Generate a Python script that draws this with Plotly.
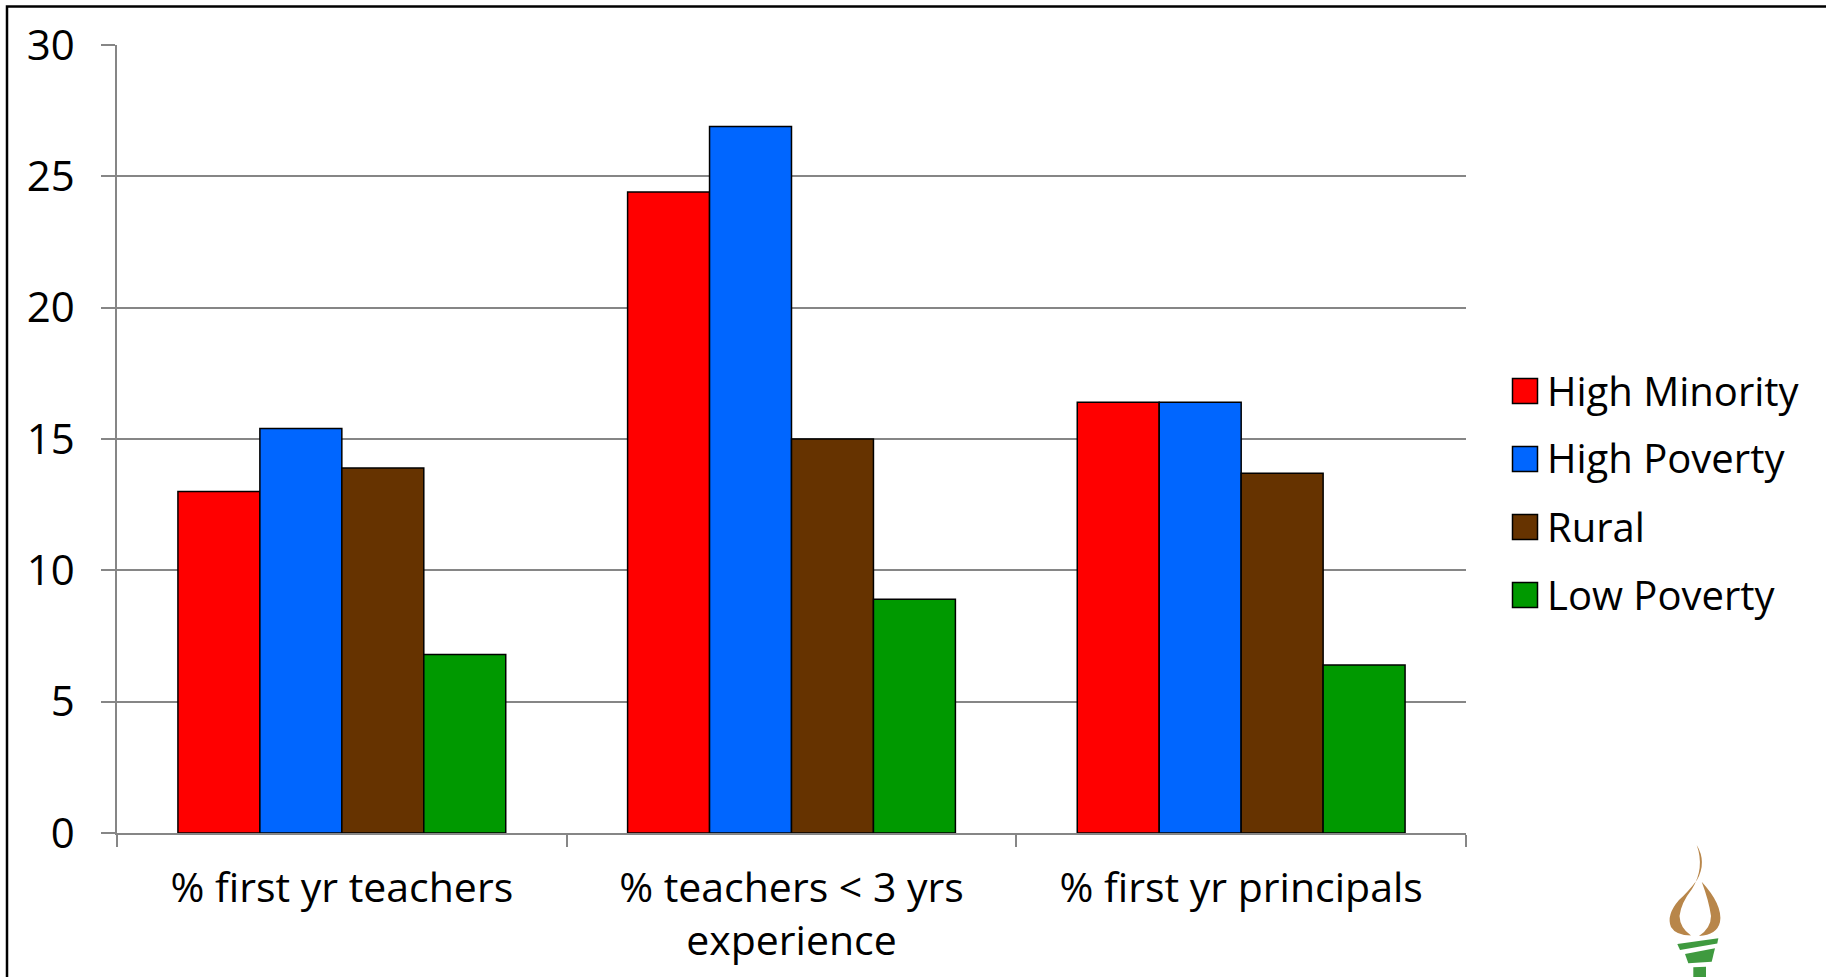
import plotly.graph_objects as go

# ---- data ----
categories = ["% first yr teachers", "% teachers < 3 yrs experience", "% first yr principals"]
tick_labels = ["% first yr teachers", "% teachers &lt; 3 yrs<br>experience", "% first yr principals"]

series_names = ["High Minority", "High Poverty", "Rural", "Low Poverty"]
high_minority = [13.0, 24.4, 16.4]
high_poverty = [15.4, 26.9, 16.4]
rural = [13.9, 15.0, 13.7]
low_poverty = [6.8, 8.9, 6.4]
series_values = [high_minority, high_poverty, rural, low_poverty]
series_colors = ["#FF0000", "#0066FF", "#663300", "#009900"]

y_ticks = [0, 5, 10, 15, 20, 25, 30]

# ---- page geometry (pixels) ----
W, H = 1826, 977
ML, MR, MT, MB = 117, 360, 45, 144
PW, PH = W - ML - MR, H - MT - MB
FONT = "Open Sans"
GRID = "#868686"


def px(x):
    return (x - ML) / PW


def py(y):
    return (H - MB - y) / PH


def path(cmds):
    out = []
    for letter, pts in cmds:
        out.append(letter + " ".join(f"{px(x):.5f},{py(y):.5f}" for x, y in pts))
    return " ".join(out) + " Z"


fig = go.Figure()
for name, vals, col in zip(series_names, series_values, series_colors):
    fig.add_trace(go.Bar(
        name=name, x=categories, y=vals,
        marker=dict(color=col, line=dict(color="black", width=1.5)),
        showlegend=False,
    ))

shapes = []
annotations = []

# legend: square swatches with labels
for i, (name, col) in enumerate(zip(series_names, series_colors)):
    cy = 391 + i * 68
    shapes.append(dict(type="rect", xref="paper", yref="paper",
                       x0=px(1512.5), x1=px(1537.5), y0=py(cy + 12.5), y1=py(cy - 12.5),
                       fillcolor=col, line=dict(color="black", width=1.5)))
    annotations.append(dict(text=name, xref="paper", yref="paper", x=px(1545), y=py(cy - 1),
                            xanchor="left", yanchor="middle", showarrow=False,
                            font=dict(family=FONT, size=40, color="black")))

# slide frame (top and left edges)
shapes.append(dict(type="rect", xref="paper", yref="paper",
                   x0=px(7), x1=px(W + 20), y0=py(6.5), y1=py(H + 20),
                   line=dict(color="black", width=2.5), fillcolor="rgba(0,0,0,0)", layer="above"))

# torch emblem
FLAME = "#B8864A"
TORCH = "#3F9A3F"
shapes.append(dict(type="path", xref="paper", yref="paper", fillcolor=FLAME, line=dict(width=0),
                   path=path([("M", [(1696.7, 845)]),
                              ("Q", [(1707, 862), (1697, 880)]),
                              ("Q", [(1688, 892), (1679, 900)]),
                              ("Q", [(1666, 915), (1671, 927)]),
                              ("Q", [(1676, 935.5), (1691, 935.5)]),
                              ("Q", [(1680, 928), (1679.5, 916)]),
                              ("Q", [(1681, 903), (1692, 889)]),
                              ("Q", [(1705, 868), (1696.7, 845)])])))
shapes.append(dict(type="path", xref="paper", yref="paper", fillcolor=FLAME, line=dict(width=0),
                   path=path([("M", [(1701.7, 881.7)]),
                              ("Q", [(1723, 905), (1720, 922)]),
                              ("Q", [(1717, 935), (1699, 936)]),
                              ("Q", [(1711, 928), (1711, 916)]),
                              ("Q", [(1709, 901), (1701.7, 881.7)])])))
shapes.append(dict(type="path", xref="paper", yref="paper", fillcolor=TORCH, line=dict(width=0),
                   path=path([("M", [(1677.3, 944)]),
                              ("L", [(1718.3, 938.3)]),
                              ("L", [(1717.3, 943.5)]),
                              ("L", [(1680, 950)])])))
shapes.append(dict(type="path", xref="paper", yref="paper", fillcolor=TORCH, line=dict(width=0),
                   path=path([("M", [(1685, 954)]),
                              ("L", [(1715, 948.3)]),
                              ("L", [(1711.7, 961.7)]),
                              ("L", [(1688.3, 963.3)])])))
shapes.append(dict(type="path", xref="paper", yref="paper", fillcolor=TORCH, line=dict(width=0),
                   path=path([("M", [(1693.3, 967.3)]),
                              ("L", [(1706, 966.7)]),
                              ("L", [(1706, 990)]),
                              ("L", [(1693.3, 990)])])))

fig.update_layout(
    width=W, height=H,
    margin=dict(l=ML, r=MR, t=MT, b=MB, autoexpand=False),
    paper_bgcolor="white", plot_bgcolor="white",
    barmode="group", bargap=0.271, bargroupgap=0,
    font=dict(family=FONT, color="black"),
    shapes=shapes, annotations=annotations,
    xaxis=dict(
        tickvals=categories, ticktext=tick_labels,
        tickfont=dict(family=FONT, size=41, color="black"),
        showline=True, linecolor=GRID, linewidth=1.5,
        ticks="outside", tickson="boundaries", ticklen=12, tickcolor=GRID, tickwidth=1.5,
        showgrid=False, ticklabelstandoff=18,
    ),
    yaxis=dict(
        range=[0, 30], tickvals=y_ticks,
        tickfont=dict(family=FONT, size=42, color="black"),
        showline=True, linecolor=GRID, linewidth=1.5,
        showgrid=True, gridcolor=GRID, gridwidth=1.5, zeroline=False,
        ticks="outside", ticklen=14, tickcolor=GRID, tickwidth=1.5,
        ticklabelstandoff=18,
    ),
)

fig.write_html("out.html")
